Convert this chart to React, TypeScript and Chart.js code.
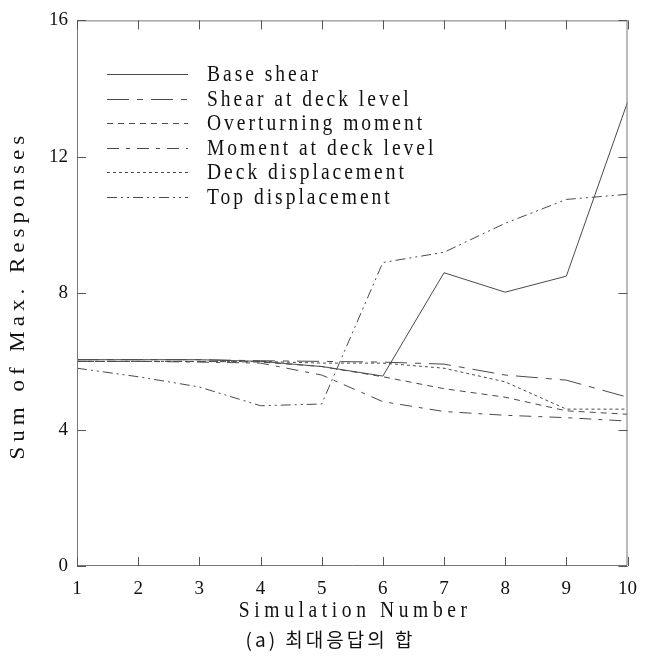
import React, { useEffect, useRef } from "react";
import { Chart, registerables } from "chart.js";

Chart.register(...registerables);

const simulations = [1, 2, 3, 4, 5, 6, 7, 8, 9, 10];
const baseShear = [6.05, 6.05, 6.05, 6.0, 5.85, 5.57, 8.6, 8.03, 8.5, 13.6];
const shearAtDeck = [6.05, 6.05, 6.05, 6.02, 6.0, 5.98, 5.92, 5.6, 5.45, 4.95];
const overturningMoment = [6.0, 6.0, 6.0, 5.98, 5.85, 5.55, 5.2, 4.95, 4.55, 4.45];
const momentAtDeck = [6.0, 6.0, 5.98, 5.95, 5.6, 4.82, 4.53, 4.42, 4.35, 4.25];
const deckDisplacement = [6.0, 6.0, 6.0, 6.0, 5.95, 5.95, 5.8, 5.4, 4.6, 4.6];
const topDisplacement = [5.8, 5.55, 5.25, 4.7, 4.75, 8.9, 9.2, 10.05, 10.75, 10.9];
const yTicks = [0, 4, 8, 12, 16];

const seriesLabels = [
  "Base shear",
  "Shear at deck level",
  "Overturning moment",
  "Moment at deck level",
  "Deck displacement",
  "Top displacement",
];
const seriesValues = [baseShear, shearAtDeck, overturningMoment, momentAtDeck, deckDisplacement, topDisplacement];
const seriesDash = [[], [22, 8, 6, 8], [6, 5], [12, 7, 4, 7], [3, 3], [10, 4, 2, 4, 2, 4]];

const xTitle = "Simulation Number";
const yTitle = "Sum of Max. Responses";
const caption = "(a) 최대응답의 합";

const SERIF = '"Liberation Serif", "DejaVu Serif", serif';
const LINE = "#4a4a4a";

function narrowText(ctx: any, text: string, x: number, y: number, sx: number, align: string) {
  ctx.save();
  ctx.translate(x, y);
  ctx.scale(sx, 1);
  ctx.textAlign = align;
  ctx.fillText(text, 0, 0);
  ctx.restore();
}

const framePlugin = {
  id: "frame",
  afterDraw(chart: any) {
    const { ctx, chartArea } = chart;
    const { left, right, top, bottom } = chartArea;
    const xs = chart.scales.x;
    const ys = chart.scales.y;
    ctx.save();
    ctx.strokeStyle = "#777";
    ctx.lineWidth = 1;
    ctx.beginPath();
    ctx.rect(left + 0.5, top + 0.5, right - left - 1, bottom - top - 1);
    ctx.stroke();
    ctx.strokeStyle = "#555";
    ctx.beginPath();
    simulations.forEach((s) => {
      const px = Math.round(xs.getPixelForValue(s)) + 0.5;
      ctx.moveTo(px, bottom);
      ctx.lineTo(px, bottom - 9);
      ctx.moveTo(px, top);
      ctx.lineTo(px, top + 9);
    });
    yTicks.forEach((t) => {
      const py = Math.round(ys.getPixelForValue(t)) + 0.5;
      ctx.moveTo(left, py);
      ctx.lineTo(left + 9, py);
      ctx.moveTo(right, py);
      ctx.lineTo(right - 9, py);
    });
    ctx.stroke();

    ctx.fillStyle = "#111";
    ctx.textBaseline = "middle";

    // legend inside the plot
    const rowTop = 74;
    const rowGap = 24.6;
    ctx.font = `23px ${SERIF}`;
    (ctx as any).letterSpacing = "3.5px";
    chart.data.datasets.forEach((ds: any, i: number) => {
      const y = Math.round(rowTop + i * rowGap) + 0.5;
      ctx.strokeStyle = LINE;
      ctx.lineWidth = 1;
      ctx.setLineDash(ds.borderDash || []);
      ctx.beginPath();
      ctx.moveTo(107, y);
      ctx.lineTo(188, y);
      ctx.stroke();
      ctx.setLineDash([]);
      narrowText(ctx, ds.label, 207, y, 0.85, "left");
    });

    // x axis title
    ctx.font = `23px ${SERIF}`;
    (ctx as any).letterSpacing = "5.4px";
    narrowText(ctx, xTitle, (left + right) / 2 + 3, 611, 0.85, "center");

    // y axis title
    ctx.save();
    ctx.translate(19, (top + bottom) / 2 + 2);
    ctx.rotate(-Math.PI / 2);
    ctx.font = `23px ${SERIF}`;
    (ctx as any).letterSpacing = "5px";
    ctx.scale(1, 0.9);
    ctx.textAlign = "center";
    ctx.fillText(yTitle, 0, 0);
    ctx.restore();

    // caption
    ctx.font = `19px "Noto Sans CJK KR", sans-serif`;
    (ctx as any).letterSpacing = "3px";
    ctx.textAlign = "center";
    ctx.fillText(caption, chart.width / 2 + 6, 640);
    ctx.restore();
  },
};

export default function App() {
  const ref = useRef<HTMLCanvasElement | null>(null);
  useEffect(() => {
    if (!ref.current) return;
    const datasets = seriesLabels.map((label, i) => ({
      label,
      data: simulations.map((s, j) => ({ x: s, y: seriesValues[i][j] })),
      borderColor: LINE,
      borderWidth: 1,
      borderDash: seriesDash[i],
      pointRadius: 0,
      fill: false,
      tension: 0,
    }));
    const chart = new Chart(ref.current, {
      type: "line",
      data: { datasets },
      plugins: [framePlugin],
      options: {
        animation: false,
        responsive: false,
        devicePixelRatio: 1,
        layout: { padding: { top: 12, right: 12, left: 0, bottom: 0 } },
        plugins: {
          legend: { display: false },
          tooltip: { enabled: false },
          title: { display: false },
        },
        scales: {
          x: {
            type: "linear",
            min: 1,
            max: 10,
            grid: { display: false, drawTicks: false },
            border: { display: false },
            afterBuildTicks: (s: any) => {
              s.ticks = simulations.map((v) => ({ value: v }));
            },
            afterFit: (s: any) => {
              s.height = 94;
            },
            ticks: {
              color: "#111",
              padding: 12,
              maxRotation: 0,
              autoSkip: false,
              font: { family: SERIF, size: 19 },
            },
          },
          y: {
            min: 0,
            max: 16,
            grid: { display: false, drawTicks: false },
            border: { display: false },
            afterBuildTicks: (s: any) => {
              s.ticks = yTicks.map((v) => ({ value: v }));
            },
            afterFit: (s: any) => {
              s.width = 77;
            },
            ticks: {
              color: "#111",
              padding: 9,
              font: { family: SERIF, size: 19 },
            },
          },
        },
      } as any,
    });
    return () => chart.destroy();
  }, []);
  return (
    <div style={{ position: "absolute", left: 0, top: 0, width: 649, height: 660, background: "#fff" }}>
      <canvas ref={ref} width={649} height={660} style={{ width: 649, height: 660, display: "block" }} />
    </div>
  );
}
